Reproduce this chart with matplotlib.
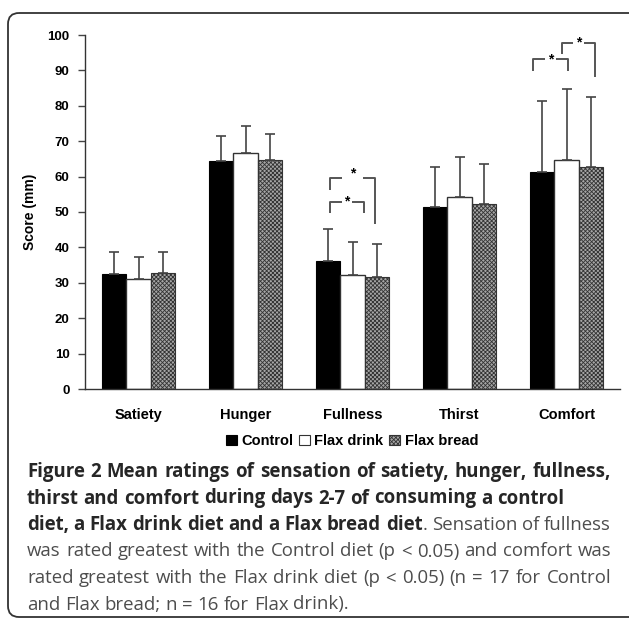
import matplotlib
matplotlib.use("Agg")
import matplotlib.pyplot as plt
import numpy as np
from matplotlib.patches import FancyBboxPatch, Patch

# ---------------- data ----------------
categories = ["Satiety", "Hunger", "Fullness", "Thirst", "Comfort"]
series_names = ["Control", "Flax drink", "Flax bread"]
control_mean = [32.5, 64.3, 36.1, 51.5, 61.4]
control_sd = [6.3, 7.3, 9.0, 11.3, 19.9]
drink_mean = [31.2, 66.8, 32.2, 54.2, 64.8]
drink_sd = [6.2, 7.6, 9.4, 11.4, 19.9]
bread_mean = [32.8, 64.6, 31.5, 52.3, 62.6]
bread_sd = [6.0, 7.5, 9.4, 11.3, 19.8]
yticks = [0, 10, 20, 30, 40, 50, 60, 70, 80, 90, 100]

# significance brackets: (category, left offset, right offset, top, left foot, right foot, star dy)
brackets = [
    (2, -0.21, 0.105, 52.9, 49.8, 49.8, 0.0),
    (2, -0.21, 0.21, 59.5, 56.2, 46.6, 1.5),
    (4, -0.31, 0.01, 93.1, 89.8, 89.8, 0.0),
    (4, -0.045, 0.27, 97.8, 94.5, 88.2, 0.0),
]

caption_lines = [
    [("Figure 2 Mean ratings of sensation of satiety, hunger, fullness,", "bold")],
    [("thirst and comfort during days 2-7 of consuming a control", "bold")],
    [("diet, a Flax drink diet and a Flax bread diet", "bold"), (". Sensation of fullness", "normal")],
    [("was rated greatest with the Control diet (p < 0.05) and comfort was", "normal")],
    [("rated greatest with the Flax drink diet (p < 0.05) (n = 17 for Control", "normal")],
    [("and Flax bread; n = 16 for Flax drink).", "normal")],
]
justify = [True, False, True, True, True, False]

# ---------------- figure ----------------
W, H = 629, 622
fig = plt.figure(figsize=(W / 100, H / 100), dpi=100)
plt.rcParams["font.family"] = ["Liberation Sans", "DejaVu Sans"]
plt.rcParams["hatch.linewidth"] = 0.6

# overlay in pixel coords
ov = fig.add_axes([0, 0, 1, 1], zorder=0)
ov.set_xlim(0, W)
ov.set_ylim(H, 0)
ov.axis("off")
ov.add_patch(FancyBboxPatch((8, 13), 640, 604, boxstyle="round,pad=0,rounding_size=11",
                            fill=False, ec="#333333", lw=1.3))

ax = fig.add_axes([85 / W, 1 - 389 / H, (620 - 85) / W, (389 - 35) / H], zorder=2)
ax.patch.set_alpha(0)
x = np.arange(len(categories))
w = 0.228
hatch_fc = "#a6a6a6"
hatch_pat = "xxxxxxxx"

ax.bar(x - w, control_mean, w, color="black", edgecolor="black", lw=0.8, zorder=2)
ax.bar(x, drink_mean, w, color="white", edgecolor="#333333", lw=1.0, zorder=2)
ax.bar(x + w, bread_mean, w, color=hatch_fc, edgecolor="#333333", lw=0.8,
       hatch=hatch_pat, zorder=2)

for off, m, s in [(-w, control_mean, control_sd), (0, drink_mean, drink_sd), (w, bread_mean, bread_sd)]:
    ax.errorbar(x + off, m, yerr=[np.zeros(len(s)), s], fmt="none", ecolor="#444444",
                elinewidth=1.2, capsize=3.5, capthick=1.2, zorder=3)

for cat, l, r, top, lf, rf, sdy in brackets:
    xl, xr = cat + l, cat + r
    xc = (xl + xr) / 2
    gap = 0.05 if sdy == 0 else 0.1
    kw = dict(color="#555555", lw=1.4, solid_capstyle="butt", zorder=3)
    ax.plot([xl, xl, xc - gap], [lf, top, top], **kw)
    ax.plot([xc + gap, xr, xr], [top, top, rf], **kw)
    ax.text(xc, top + sdy, "*", ha="center", va="center", fontsize=10, fontweight="bold",
            zorder=4)

ax.set_xlim(-0.5, len(categories) - 0.5)
ax.set_ylim(0, 100)
ax.set_yticks(yticks)
ax.set_yticklabels([str(t) for t in yticks], fontsize=9.5, fontweight="bold")
ax.set_xticks(x)
ax.set_xticklabels(categories, fontsize=10.5, fontweight="bold")
ax.tick_params(axis="x", length=0, pad=14)
ax.tick_params(axis="y", length=5, width=1, color="#444444", pad=6, direction="out")
for sp in ["top", "right"]:
    ax.spines[sp].set_visible(False)
for sp in ["left", "bottom"]:
    ax.spines[sp].set_color("#333333")
    ax.spines[sp].set_linewidth(1.0)
ax.set_ylabel("Score (mm)", fontsize=10, fontweight="bold")
ax.yaxis.set_label_coords(-48 / (620 - 85), 0.5)

handles = [Patch(fc="black", ec="black", lw=0.8),
           Patch(fc="white", ec="#333333", lw=0.8),
           Patch(fc=hatch_fc, ec="#333333", lw=0.8, hatch=hatch_pat)]
fig.legend(handles, series_names, loc="center", bbox_to_anchor=(352 / W, 1 - 441 / H),
           ncol=3, frameon=False, handlelength=0.75, handleheight=0.75, handletextpad=0.3,
           columnspacing=0.4, prop={"weight": "bold", "size": 10.5})

# ---------------- caption ----------------
cap_font = ["Open Sans", "DejaVu Sans"]
colors = {"bold": "#262626", "normal": "#4d4d4d"}
renderer = fig.canvas.get_renderer()
left, right = 27, 611
baseline0, dy = 477, 26.5


def measure(s, weight, size):
    t = ov.text(0, 0, s, fontsize=size, fontweight=weight, family=cap_font)
    wpx = t.get_window_extent(renderer).width
    t.remove()
    return wpx


# choose size so the first bold line fills the measure with normal spacing
ref_w = measure(caption_lines[0][0][0], "bold", 10.0)
cap_size = 10.0 * 578 / ref_w

space_w = measure("a b", "normal", cap_size) - measure("ab", "normal", cap_size)

for li, (segs, just) in enumerate(zip(caption_lines, justify)):
    words = []
    for si, (s, weight) in enumerate(segs):
        toks = s.split(" ")
        for ti, tok in enumerate(toks):
            if tok == "":
                continue
            if ti == 0 and si > 0 and not s.startswith(" ") and words:
                words[-1].append((tok, weight))
            else:
                words.append([(tok, weight)])
    widths = [sum(measure(t, wt, cap_size) for t, wt in wd) for wd in words]
    if just and len(words) > 1:
        gap = (right - left - sum(widths)) / (len(words) - 1)
    else:
        gap = space_w
    xpos = left
    yb = baseline0 + li * dy
    for wd, wdw in zip(words, widths):
        xx = xpos
        for t, wt in wd:
            ov.text(xx, yb, t, fontsize=cap_size, fontweight=wt, family=cap_font,
                    color=colors[wt], ha="left", va="baseline")
            xx += measure(t, wt, cap_size)
        xpos += wdw + gap

fig.savefig("out.png", dpi=100)
